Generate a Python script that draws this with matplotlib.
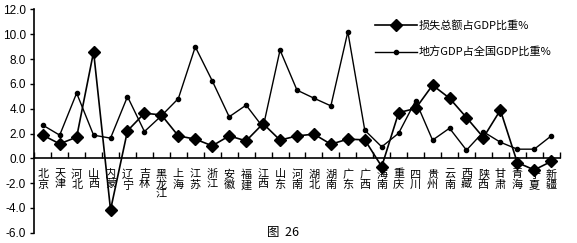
import numpy as np
import matplotlib.pyplot as plt
from matplotlib.ticker import FixedLocator, FuncFormatter

plt.rcParams['font.family'] = ['Noto Sans CJK SC', 'DejaVu Sans']

provinces = ['北京', '天津', '河北', '山西', '内蒙', '辽宁', '吉林', '黑龙江',
             '上海', '江苏', '浙江', '安徽', '福建', '江西', '山东', '河南',
             '湖北', '湖南', '广东', '广西', '海南', '重庆', '四川', '贵州',
             '云南', '西藏', '陕西', '甘肃', '青海', '宁夏', '新疆']

loss_pct = [1.87, 1.17, 1.71, 8.59, -4.15, 2.22, 3.64, 3.5, 1.81, 1.55, 1.01,
            1.81, 1.41, 2.8, 1.47, 1.81, 1.95, 1.14, 1.55, 1.49, -0.66, 3.69,
            4.02, 5.9, 4.85, 3.29, 1.68, 3.89, -0.34, -0.93, -0.25]

gdp_pct = [2.68, 1.87, 5.26, 1.87, 1.63, 4.98, 2.16, 3.43, 4.82, 8.99, 6.25,
           3.35, 4.29, 2.5, 8.73, 5.5, 4.85, 4.23, 10.2, 2.27, 0.93, 2.03,
           4.64, 1.47, 2.43, 0.66, 2.14, 1.3, 0.74, 0.74, 1.81]

legend_labels = ['损失总额占GDP比重%', '地方GDP占全国GDP比重%']

fig = plt.figure(figsize=(5.77, 2.43), dpi=100)
ax = fig.add_axes([0.0594, 0.042, 0.9106, 0.919])

x = np.arange(len(provinces))
ax.plot(x, loss_pct, color='black', lw=1.2, marker='D', ms=6.5,
        label=legend_labels[0])
ax.plot(x, gdp_pct, color='black', lw=1.0, marker='o', ms=3,
        label=legend_labels[1])

ax.set_xlim(-0.5, 30.5)
ax.set_ylim(-6, 12)

# axes look
ax.spines['top'].set_visible(False)
ax.spines['right'].set_visible(False)
ax.spines['bottom'].set_position(('data', 0))
ax.spines['left'].set_linewidth(1.2)
ax.spines['bottom'].set_linewidth(1.2)

ax.yaxis.set_major_locator(FixedLocator(np.arange(-6, 12.1, 2)))
ax.yaxis.set_major_formatter(FuncFormatter(lambda v, p: '%.1f' % v))
ax.tick_params(axis='y', direction='out', length=3, width=1, labelsize=8.5,
               pad=3)
for t in ax.get_yticklabels():
    t.set_family(['Liberation Sans', 'DejaVu Sans'])

ax.set_xticks(x)
ax.set_xticklabels(['\n'.join(p) for p in provinces], fontsize=8,
                   linespacing=1.0, va='top')
ax.set_xticks(np.arange(-0.5, 30.6, 1), minor=True)
ax.tick_params(axis='x', which='major', length=0, pad=8)
ax.tick_params(axis='x', which='minor', direction='in', length=4, width=1)

ax.legend(loc='upper left', bbox_to_anchor=(0.641, 0.94),
          bbox_transform=fig.transFigure, frameon=False, fontsize=8,
          handlelength=3.7, labelspacing=1.4, borderpad=0, handletextpad=0.2)

fig.text(0.49, 0.042, '图  26', ha='center', va='center', fontsize=9)

fig.savefig('out.png', dpi=100, facecolor='white')
